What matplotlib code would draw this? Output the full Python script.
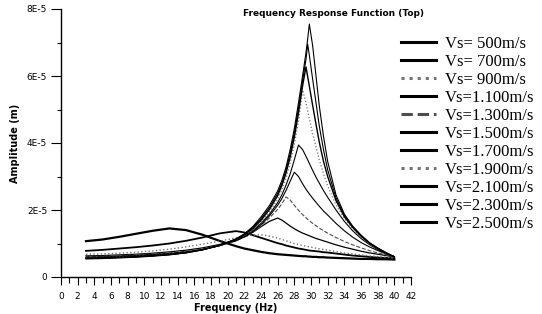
import numpy as np
import matplotlib
matplotlib.use("Agg")
import matplotlib.pyplot as plt
from matplotlib.ticker import MultipleLocator, FuncFormatter

# frequency grid (Hz) shared by all curves
freq = [3, 5, 7, 9, 11, 13, 15, 17, 19, 21, 22, 23, 24, 25, 26, 26.5, 27, 27.5,
        28, 28.5, 29, 29.4, 29.6, 29.8, 30.2, 30.6, 31, 31.5, 32, 33, 34, 35,
        36, 37, 38, 39, 40]

# amplitudes in units of 1E-5 m
amp_500 = [1.07, 1.12, 1.2, 1.29, 1.38, 1.45, 1.40, 1.26, 1.08, 0.92, 0.85, 0.8, 0.75,
           0.71, 0.68, 0.67, 0.66, 0.65, 0.64, 0.63, 0.62, 0.62, 0.61, 0.61, 0.6, 0.6,
           0.59, 0.59, 0.58, 0.57, 0.56, 0.55, 0.54, 0.54, 0.53, 0.53, 0.52]
amp_700 = [0.78, 0.81, 0.85, 0.89, 0.94, 1.0, 1.08, 1.18, 1.3, 1.37, 1.33, 1.25, 1.17,
           1.09, 1.01, 0.98, 0.94, 0.91, 0.88, 0.85, 0.83, 0.81, 0.8, 0.79, 0.78, 0.77,
           0.76, 0.74, 0.73, 0.7, 0.67, 0.64, 0.62, 0.6, 0.58, 0.57, 0.56]
amp_900 = [0.68, 0.69, 0.71, 0.74, 0.78, 0.83, 0.9, 0.98, 1.07, 1.17, 1.21, 1.25, 1.26,
           1.22, 1.16, 1.12, 1.08, 1.04, 1.0, 0.97, 0.94, 0.92, 0.91, 0.9, 0.88, 0.86,
           0.84, 0.82, 0.8, 0.76, 0.72, 0.69, 0.66, 0.63, 0.61, 0.59, 0.57]
amp_1100 = [0.63, 0.64, 0.66, 0.68, 0.71, 0.75, 0.8, 0.87, 0.97, 1.1, 1.2, 1.33, 1.5,
            1.66, 1.76, 1.7, 1.61, 1.52, 1.44, 1.37, 1.31, 1.27, 1.25, 1.23, 1.19, 1.15,
            1.12, 1.08, 1.04, 0.96, 0.89, 0.83, 0.77, 0.72, 0.68, 0.64, 0.6]
amp_1300 = [0.61, 0.62, 0.64, 0.66, 0.69, 0.72, 0.77, 0.84, 0.94, 1.08, 1.19, 1.33, 1.52,
            1.76, 2.02, 2.18, 2.39, 2.3, 2.14, 1.99, 1.86, 1.77, 1.72, 1.68, 1.6, 1.53,
            1.46, 1.38, 1.31, 1.18, 1.06, 0.96, 0.87, 0.79, 0.72, 0.66, 0.6]
amp_1500 = [0.59, 0.6, 0.62, 0.64, 0.67, 0.7, 0.75, 0.82, 0.93, 1.08, 1.2, 1.35, 1.56,
            1.82, 2.14, 2.34, 2.58, 2.86, 3.13, 3.0, 2.78, 2.62, 2.55, 2.48, 2.35, 2.23,
            2.11, 1.97, 1.85, 1.6, 1.38, 1.19, 1.03, 0.9, 0.79, 0.69, 0.61]
amp_1700 = [0.58, 0.59, 0.61, 0.63, 0.66, 0.69, 0.74, 0.82, 0.94, 1.1, 1.22, 1.38, 1.6,
            1.87, 2.22, 2.45, 2.74, 3.08, 3.5, 3.94, 3.8, 3.6, 3.5, 3.39, 3.18, 2.98,
            2.8, 2.58, 2.38, 2.0, 1.66, 1.38, 1.15, 0.97, 0.82, 0.7, 0.61]
amp_1900 = [0.57, 0.58, 0.6, 0.62, 0.65, 0.68, 0.73, 0.82, 0.94, 1.11, 1.24, 1.41, 1.64,
            1.94, 2.32, 2.6, 2.95, 3.4, 3.95, 4.65, 5.58, 5.2, 4.95, 4.72, 4.28, 3.88,
            3.5, 3.08, 2.72, 2.15, 1.74, 1.45, 1.2, 1.0, 0.84, 0.71, 0.6]
amp_2100 = [0.56, 0.57, 0.59, 0.61, 0.64, 0.67, 0.73, 0.82, 0.94, 1.12, 1.26, 1.44, 1.69,
            2.01, 2.43, 2.73, 3.1, 3.58, 4.17, 4.9, 5.72, 6.27, 5.98, 5.7, 5.12, 4.56,
            4.02, 3.45, 3.0, 2.28, 1.8, 1.48, 1.22, 1.01, 0.85, 0.72, 0.6]
amp_2300 = [0.55, 0.56, 0.58, 0.6, 0.63, 0.67, 0.72, 0.81, 0.94, 1.13, 1.27, 1.47, 1.74,
            2.07, 2.5, 2.8, 3.19, 3.69, 4.3, 5.05, 5.88, 6.5, 6.95, 6.62, 5.9, 5.2,
            4.5, 3.8, 3.2, 2.36, 1.84, 1.5, 1.24, 1.02, 0.86, 0.72, 0.6]
amp_2500 = [0.54, 0.55, 0.57, 0.59, 0.62, 0.66, 0.72, 0.81, 0.94, 1.14, 1.29, 1.5, 1.79,
            2.13, 2.57, 2.88, 3.28, 3.8, 4.43, 5.2, 6.02, 6.7, 7.1, 7.55, 6.9, 6.0,
            5.1, 4.2, 3.45, 2.45, 1.88, 1.52, 1.25, 1.03, 0.87, 0.73, 0.6]

vs_labels = ["Vs= 500m/s", "Vs= 700m/s", "Vs= 900m/s", "Vs=1.100m/s", "Vs=1.300m/s",
             "Vs=1.500m/s", "Vs=1.700m/s", "Vs=1.900m/s", "Vs=2.100m/s",
             "Vs=2.300m/s", "Vs=2.500m/s"]
curves = [amp_500, amp_700, amp_900, amp_1100, amp_1300, amp_1500,
          amp_1700, amp_1900, amp_2100, amp_2300, amp_2500]

# line look for each curve (style, colour, width)
looks = [('-', 'black', 1.6), ('-', 'black', 1.3), (':', '0.45', 1.0),
         ('-', 'black', 0.9), ('--', '0.3', 0.8), ('-', 'black', 0.8),
         ('-', 'black', 0.8), (':', '0.45', 0.9), ('-', 'black', 1.0),
         ('-', 'black', 0.8), ('-', 'black', 0.8)]

fig = plt.figure(figsize=(5.42, 3.14), dpi=100)
ax = fig.add_axes([61 / 542, 1 - 277 / 314, 350 / 542, 268 / 314])

f = np.array(freq)
for amp, lab, (ls, col, lw) in zip(curves, vs_labels, looks):
    ax.plot(f, np.array(amp) * 1e-5, ls=ls, color=col, lw=lw, label=lab)

ax.set_xlim(0, 42)
ax.set_ylim(0, 8e-5)
ax.xaxis.set_major_locator(MultipleLocator(2))
ax.xaxis.set_minor_locator(MultipleLocator(1))
ax.yaxis.set_major_locator(MultipleLocator(2e-5))
ax.yaxis.set_minor_locator(MultipleLocator(1e-5))


def yfmt(v, pos):
    if abs(v) < 1e-12:
        return "0"
    return "%dE-5" % round(v * 1e5)


ax.yaxis.set_major_formatter(FuncFormatter(yfmt))
for s in ['top', 'right']:
    ax.spines[s].set_visible(False)
ax.spines['left'].set_linewidth(1.0)
ax.spines['bottom'].set_linewidth(1.0)
ax.tick_params(axis='x', which='major', direction='out', length=6, width=0.8,
               labelsize=6.5, pad=5)
ax.tick_params(axis='x', which='minor', direction='out', length=4, width=0.8)
ax.tick_params(axis='y', which='major', direction='out', length=7, width=0.8,
               labelsize=6.5, pad=3)
ax.tick_params(axis='y', which='minor', direction='out', length=3, width=0.8)

ax.set_xlabel("Frequency (Hz)", fontsize=7, fontweight='bold', labelpad=1)
ax.set_ylabel("Amplitude (m)", fontsize=7, fontweight='bold', labelpad=5)
fig.text(0.615, 0.958, "Frequency Response Function (Top)", fontsize=6.5,
         fontweight='bold', ha='center', va='center')

leg = fig.legend(loc='upper left', bbox_to_anchor=(394 / 542, 1 - 29 / 314),
                 frameon=False, handlelength=2.1, handletextpad=0.55,
                 labelspacing=0.12, borderaxespad=0,
                 prop={'family': 'Liberation Serif', 'size': 12})
for h in leg.get_lines():
    h.set_linewidth(2.2)

fig.savefig("out.png", dpi=100)
